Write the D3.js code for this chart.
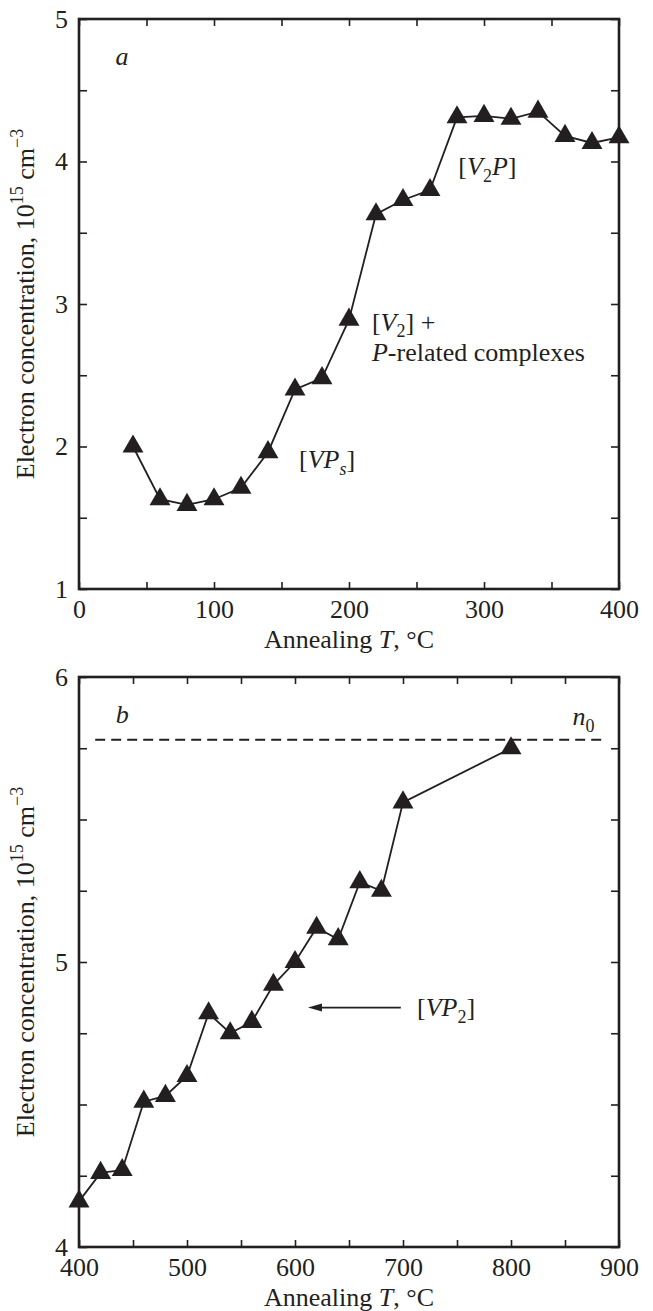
<!DOCTYPE html>
<html lang="en">
<head>
    <meta charset="UTF-8">
    <script src="https://d3js.org/d3.v7.min.js"></script>
    <style>
        body { margin: 0; background: #fff; }
    </style>
</head>
<body>
    <svg width="653" height="1311"></svg>
    <script>
        // panel a
        var tempA = [40, 60, 80, 100, 120, 140, 160, 180, 200, 220, 240, 260, 280, 300, 320, 340, 360, 380, 400];
        var concA = [2.00, 1.63, 1.59, 1.63, 1.71, 1.96, 2.40, 2.48, 2.89, 3.63, 3.73, 3.80, 4.31, 4.32, 4.30, 4.35, 4.18, 4.13, 4.17];
        var xTicksA = [0, 100, 200, 300, 400];
        var yTicksA = [1, 2, 3, 4, 5];

        // panel b
        var tempB = [400, 420, 440, 460, 480, 500, 520, 540, 560, 580, 600, 620, 640, 660, 680, 700, 800];
        var concB = [4.16, 4.26, 4.27, 4.51, 4.53, 4.60, 4.82, 4.75, 4.79, 4.92, 5.00, 5.12, 5.08, 5.28, 5.25, 5.56, 5.75];
        var xTicksB = [400, 500, 600, 700, 800, 900];
        var yTicksB = [4, 5, 6];
        var n0 = 5.78;

        var serif = "'Liberation Serif', 'DejaVu Serif', 'Times New Roman', serif";
        var svg = d3.select("svg").attr("font-family", serif);
        var ink = "#231f20";
        var left = 79, right = 619;

        function panel(opt) {
            var x = d3.scaleLinear().domain(opt.xDomain).range([left, right]);
            var y = d3.scaleLinear().domain(opt.yDomain).range([opt.bottom, opt.top]);
            var g = svg.append("g");

            var xMinor = d3.range(opt.xDomain[0], opt.xDomain[1] + 1, opt.xStep);
            var yMinor = d3.range(opt.yDomain[0], opt.yDomain[1] + 1e-9, opt.yStep);

            g.append("g").attr("transform", "translate(0," + opt.bottom + ")")
                .call(d3.axisBottom(x).tickValues(xMinor).tickSize(-7).tickPadding(11)
                    .tickFormat(function(d) { return opt.xTicks.indexOf(d) >= 0 ? d : ""; }));
            g.append("g").attr("transform", "translate(0," + opt.top + ")")
                .call(d3.axisTop(x).tickValues(xMinor).tickSize(-7).tickFormat(""));
            g.append("g").attr("transform", "translate(" + left + ",0)")
                .call(d3.axisLeft(y).tickValues(yMinor).tickSize(-8).tickPadding(11)
                    .tickFormat(function(d) {
                        return opt.yTicks.some(function(t) { return Math.abs(t - d) < 1e-6; }) ? d3.format("d")(d) : "";
                    }));
            g.append("g").attr("transform", "translate(" + right + ",0)")
                .call(d3.axisRight(y).tickValues(yMinor).tickSize(-8).tickFormat(""));

            g.selectAll("g").attr("font-family", serif).attr("font-size", 26);
            g.selectAll(".domain").remove();
            g.selectAll(".tick line").attr("stroke", ink).attr("stroke-width", 1.6);
            g.selectAll(".tick text").attr("fill", ink);

            g.append("rect")
                .attr("x", left).attr("y", opt.top)
                .attr("width", right - left).attr("height", opt.bottom - opt.top)
                .attr("fill", "none").attr("stroke", ink).attr("stroke-width", 2.6);

            // axis titles
            var xt = g.append("text")
                .attr("x", (left + right) / 2).attr("y", opt.bottom + 59)
                .attr("text-anchor", "middle").attr("font-size", 26).attr("fill", ink);
            xt.append("tspan").text("Annealing ");
            xt.append("tspan").attr("font-style", "italic").text("T");
            xt.append("tspan").text(", \u00b0C");

            var yt = g.append("text")
                .attr("transform", "translate(34," + (opt.top + opt.bottom) / 2 + ") rotate(-90)")
                .attr("text-anchor", "middle").attr("font-size", 26).attr("fill", ink);
            yt.append("tspan").text("Electron concentration, 10");
            yt.append("tspan").attr("font-size", 18).attr("dy", -11).text("15");
            yt.append("tspan").attr("dy", 11).text(" cm");
            yt.append("tspan").attr("font-size", 18).attr("dy", -11).text("\u22123");

            return { g: g, x: x, y: y };
        }

        function series(p, xs, ys) {
            var pts = xs.map(function(d, i) { return [d, ys[i]]; });
            p.g.append("path")
                .datum(pts)
                .attr("fill", "none").attr("stroke", ink).attr("stroke-width", 1.8)
                .attr("d", d3.line().x(function(d) { return p.x(d[0]); }).y(function(d) { return p.y(d[1]); }));
            p.g.selectAll(".mark")
                .data(pts).enter().append("path")
                .attr("class", "mark")
                .attr("transform", function(d) { return "translate(" + p.x(d[0]) + "," + p.y(d[1]) + ")"; })
                .attr("d", d3.symbol().type(d3.symbolTriangle).size(190))
                .attr("fill", ink);
        }

        // label with pieces: [text, italic, shift]
        function label(g, x, y, parts) {
            var t = g.append("text").attr("x", x).attr("y", y).attr("font-size", 26).attr("fill", ink);
            var cur = 0;
            parts.forEach(function(p) {
                var s = t.append("tspan").text(p[0]);
                if (p[1]) s.attr("font-style", "italic");
                var shift = p[2] || 0;
                if (shift !== cur) { s.attr("dy", shift - cur); cur = shift; }
                if (shift !== 0) s.attr("font-size", 18);
            });
            return t;
        }

        var a = panel({ xDomain: [0, 400], yDomain: [1, 5], top: 19, bottom: 589,
            xStep: 50, yStep: 0.5, xTicks: xTicksA, yTicks: yTicksA });
        series(a, tempA, concA);

        label(a.g, a.x(27), a.y(4.68), [["a", true]]);
        label(a.g, a.x(281), a.y(3.905), [["[", false], ["V", true], ["2", false, 7], ["P", true], ["]", false]]);
        label(a.g, a.x(217), a.y(2.81), [["[", false], ["V", true], ["2", false, 6], ["] +", false]]);
        label(a.g, a.x(217), a.y(2.60), [["P", true], ["-related complexes", false]]);
        label(a.g, a.x(163), a.y(1.85), [["[", false], ["VP", true], ["s", true, 7], ["]", false]]);

        var b = panel({ xDomain: [400, 900], yDomain: [4, 6], top: 677, bottom: 1247,
            xStep: 50, yStep: 0.25, xTicks: xTicksB, yTicks: yTicksB });

        b.g.append("line")
            .attr("x1", b.x(415)).attr("x2", b.x(886))
            .attr("y1", b.y(n0)).attr("y2", b.y(n0))
            .attr("stroke", ink).attr("stroke-width", 2).attr("stroke-dasharray", "10,6");

        series(b, tempB, concB);

        label(b.g, b.x(434), b.y(5.84), [["b", true]]);
        label(b.g, b.x(857), b.y(5.83), [["n", true], ["0", false, 7]]);
        label(b.g, b.x(713), b.y(4.81), [["[", false], ["VP", true], ["2", false, 7], ["]", false]]);

        // arrow pointing at the [VP2] stage
        var ay = b.y(4.84), ax0 = b.x(698), ax1 = b.x(612);
        b.g.append("line")
            .attr("x1", ax0).attr("x2", ax1 + 10).attr("y1", ay).attr("y2", ay)
            .attr("stroke", ink).attr("stroke-width", 1.6);
        b.g.append("path")
            .attr("d", "M" + ax1 + "," + ay + "L" + (ax1 + 14) + "," + (ay - 4) + "L" + (ax1 + 14) + "," + (ay + 4) + "Z")
            .attr("fill", ink);
    </script>
</body>
</html>
